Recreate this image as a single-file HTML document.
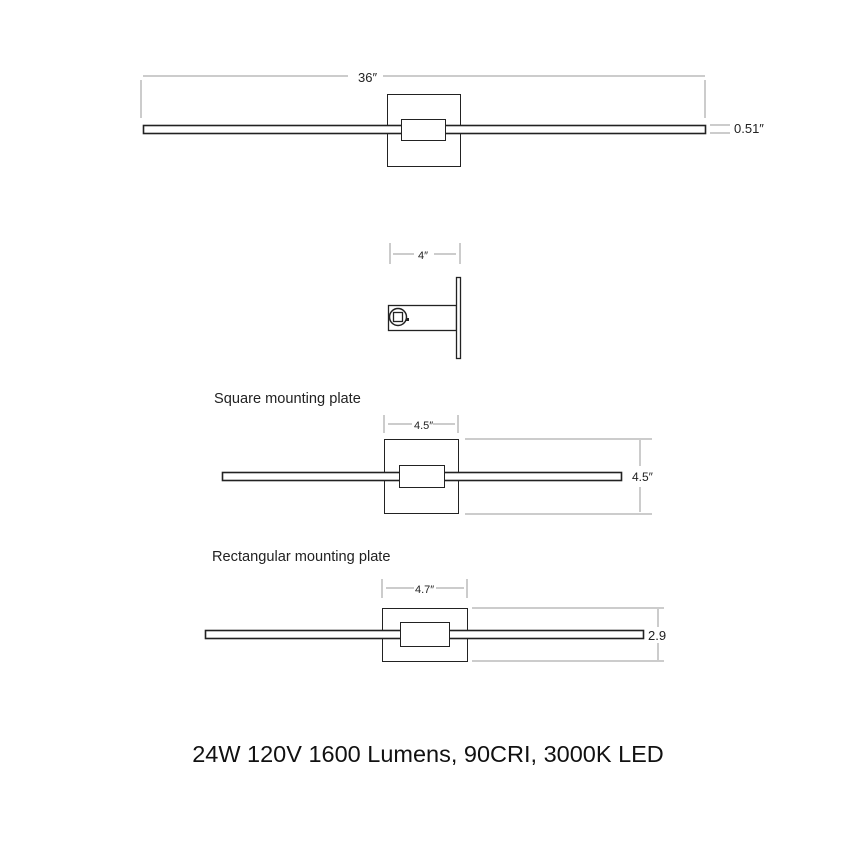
<!DOCTYPE html>
<html><head><style>
body{margin:0;background:#fff;}
svg text{font-family:"Liberation Sans",sans-serif;fill:#222;}
</style></head><body>
<svg width="850" height="850" xmlns="http://www.w3.org/2000/svg">
<g fill="none" stroke="#999" stroke-width="1">
<line x1="143" y1="76" x2="348" y2="76"/><line x1="383" y1="76" x2="705" y2="76"/>
<line x1="141" y1="80" x2="141" y2="118"/><line x1="705" y1="80" x2="705" y2="118"/>
<line x1="710" y1="125" x2="730" y2="125"/><line x1="710" y1="133" x2="730" y2="133"/>
<line x1="390" y1="243" x2="390" y2="264"/><line x1="460" y1="243" x2="460" y2="264"/>
<line x1="393" y1="254" x2="414" y2="254"/><line x1="434" y1="254" x2="456" y2="254"/>
<line x1="384" y1="415" x2="384" y2="433"/><line x1="458" y1="415" x2="458" y2="433"/>
<line x1="388" y1="424" x2="412" y2="424"/><line x1="433" y1="424" x2="455" y2="424"/>
<line x1="465" y1="439" x2="652" y2="439"/><line x1="465" y1="514" x2="652" y2="514"/>
<line x1="640" y1="440" x2="640" y2="466"/><line x1="640" y1="487" x2="640" y2="512"/>
<line x1="382" y1="579" x2="382" y2="598"/><line x1="467" y1="579" x2="467" y2="598"/>
<line x1="386" y1="588" x2="414" y2="588"/><line x1="436" y1="588" x2="464" y2="588"/>
<line x1="472" y1="608" x2="664" y2="608"/><line x1="472" y1="661" x2="664" y2="661"/>
<line x1="658" y1="609" x2="658" y2="627"/><line x1="658" y1="643" x2="658" y2="660"/>
</g>
<g fill="#fff" stroke="#222" stroke-width="1">
<rect x="387.5" y="94.5" width="73" height="72"/>
<rect x="143.5" y="125.5" width="562" height="8" stroke-width="1.6"/>
<rect x="401.5" y="119.5" width="44" height="21"/>
<rect x="388.5" y="305.5" width="68" height="25" stroke-width="1.3"/>
<rect x="456.5" y="277.5" width="4" height="81" stroke-width="1.3"/>
<circle cx="398" cy="317" r="8.5" stroke-width="1.5"/>
<rect x="393.5" y="312.5" width="9" height="9" stroke-width="1.3"/>
<rect x="384.5" y="439.5" width="74" height="74"/>
<rect x="222.5" y="472.5" width="399" height="8" stroke-width="1.6"/>
<rect x="399.5" y="465.5" width="45" height="22"/>
<rect x="382.5" y="608.5" width="85" height="53"/>
<rect x="205.5" y="630.5" width="438" height="8" stroke-width="1.6"/>
<rect x="400.5" y="622.5" width="49" height="24"/>
</g>
<rect x="406" y="318" width="3" height="3" fill="#222"/>
<text x="358" y="82" font-size="13">36″</text>
<text x="734" y="133" font-size="13">0.51″</text>
<text x="418" y="259" font-size="11">4″</text>
<text x="414" y="429" font-size="11">4.5″</text>
<text x="632" y="481" font-size="12">4.5″</text>
<text x="415" y="593" font-size="11">4.7″</text>
<text x="648" y="640" font-size="13">2.9</text>
<text x="214" y="403" font-size="14.6">Square mounting plate</text>
<text x="212" y="561" font-size="14.6">Rectangular mounting plate</text>
<text x="428" y="762" font-size="23.5" text-anchor="middle" style="fill:#111">24W 120V 1600 Lumens, 90CRI, 3000K LED</text>
</svg>
</body></html>
